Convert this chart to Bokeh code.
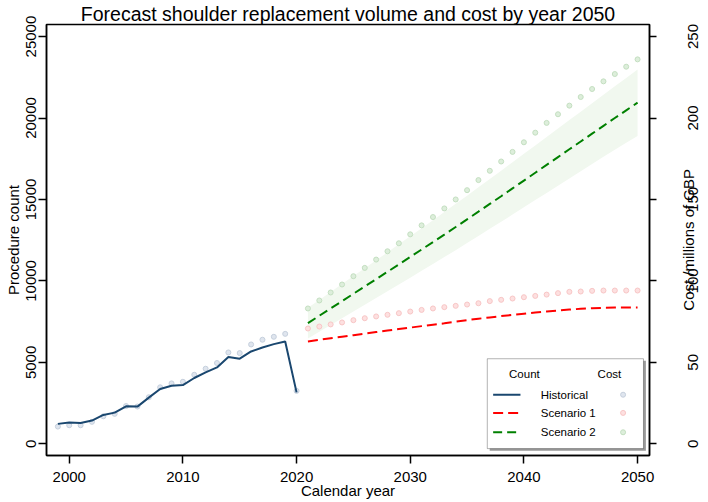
import math
from bokeh.plotting import figure
from bokeh.models import (ColumnDataSource, Range1d, LinearAxis, FixedTicker, BoxAnnotation,
                          Label, CustomJSTickFormatter, CustomLabelingPolicy)
from bokeh.embed import file_html
from bokeh.resources import INLINE

# historical data 1999-2020
hist_years = [1999, 2000, 2001, 2002, 2003, 2004, 2005, 2006, 2007, 2008, 2009,
              2010, 2011, 2012, 2013, 2014, 2015, 2016, 2017, 2018, 2019, 2020]
hist_count = [1225, 1305, 1285, 1430, 1775, 1915, 2305, 2285, 2835, 3365, 3570,
              3610, 4040, 4385, 4690, 5325, 5225, 5670, 5915, 6120, 6285, 3160]
hist_cost = [10.6, 11.4, 11.4, 13.5, 16.9, 18.4, 23.2, 22.9, 28.6, 34.7, 37.1,
             38.1, 42.4, 46.1, 49.6, 56.1, 55.7, 61.0, 63.9, 65.7, 67.5, 32.5]

# forecast 2021-2050
fc_years = [2021, 2022, 2023, 2024, 2025, 2026, 2027, 2028, 2029, 2030,
            2031, 2032, 2033, 2034, 2035, 2036, 2037, 2038, 2039, 2040,
            2041, 2042, 2043, 2044, 2045, 2046, 2047, 2048, 2049, 2050]
s1_count = [6285, 6385, 6480, 6575, 6670, 6765, 6860, 6955, 7045, 7135,
            7225, 7310, 7395, 7500, 7590, 7680, 7760, 7840, 7915, 7990,
            8060, 8125, 8185, 8240, 8290, 8325, 8350, 8362, 8367, 8365]
s1_cost = [70.8, 72.0, 73.3, 74.5, 75.9, 77.1, 78.2, 79.2, 80.2, 81.2,
           82.2, 83.1, 83.9, 84.7, 85.5, 86.3, 87.6, 88.4, 89.2, 90.0,
           90.8, 91.6, 92.5, 93.3, 93.5, 93.9, 94.1, 94.1, 94.1, 94.1]
s2_count = [7410, 7860, 8310, 8760, 9210, 9660, 10110, 10560, 11015, 11470,
            11925, 12385, 12845, 13310, 13780, 14250, 14725, 15200, 15680, 16160,
            16640, 17120, 17600, 18080, 18560, 19040, 19520, 20000, 20470, 20940]
s2_lower = [6470, 6885, 7300, 7710, 8125, 8540, 8950, 9365, 9785, 10200,
            10620, 11040, 11465, 11890, 12325, 12755, 13195, 13630, 14075, 14515,
            14960, 15400, 15845, 16285, 16730, 17170, 17615, 18055, 18485, 18900]
s2_upper = [8350, 8835, 9320, 9810, 10295, 10780, 11270, 11755, 12245, 12740,
            13230, 13730, 14225, 14730, 15235, 15745, 16255, 16770, 17285, 17805,
            18320, 18840, 19355, 19875, 20390, 20910, 21425, 21945, 22455, 22980]
s2_cost = [83.1, 88.0, 92.9, 97.8, 102.9, 108.0, 113.1, 118.2, 123.1, 128.6,
           134.1, 139.2, 144.5, 150.0, 155.7, 161.9, 167.6, 173.3, 179.2, 185.1,
           191.0, 197.0, 202.3, 207.6, 212.9, 217.8, 222.5, 227.0, 231.5, 236.0]

x_ticks = [2000, 2010, 2020, 2030, 2040, 2050]
count_ticks = [0, 5000, 10000, 15000, 20000, 25000]
cost_ticks = [0, 50, 100, 150, 200, 250]
cost_title = "Cost /millions of GBP"

FONT = "Liberation Sans"
NAVY = "#1a476f"
RED = "#ff0000"
GREEN = "#008000"

hist = ColumnDataSource(data=dict(x=hist_years, count=hist_count, cost=hist_cost))
fc = ColumnDataSource(data=dict(x=fc_years, s1=s1_count, s1c=s1_cost, s2=s2_count,
                                lo=s2_lower, hi=s2_upper, s2c=s2_cost))

x0, x1 = 1998.0, 2051.05
y0, y1 = -716, 25740

p = figure(width=708, height=502, output_backend="svg", toolbar_location=None,
           x_range=Range1d(x0, x1), y_range=Range1d(y0, y1),
           min_border_left=46, min_border_right=45, min_border_top=23, min_border_bottom=47)
p.extra_y_ranges = {"cost": Range1d(y0 / 100, y1 / 100)}

p.title.text = "Forecast shoulder replacement volume and cost by year 2050"
p.title.align = "center"
p.title.text_font = FONT
p.title.text_font_size = "19.5px"
p.title.text_font_style = "normal"
p.title.text_color = "black"
p.title.standoff = 0
p.title.offset = 0

p.grid.visible = False
p.outline_line_color = "black"
p.outline_line_width = 1.5

# confidence band for scenario 2
p.varea(x="x", y1="lo", y2="hi", source=fc, fill_color="#f1f8ef")

# cost dots
p.scatter("x", "cost", source=hist, y_range_name="cost", size=5,
          fill_color="#dfe5ee", line_color="#c6d0dd")
p.scatter("x", "s1c", source=fc, y_range_name="cost", size=5,
          fill_color="#fde0e0", line_color="#f8c6c6")
p.scatter("x", "s2c", source=fc, y_range_name="cost", size=5,
          fill_color="#ddeedb", line_color="#c4dfc1")

# count lines
p.line("x", "count", source=hist, line_color=NAVY, line_width=2)
p.line("x", "s1", source=fc, line_color=RED, line_width=2, line_dash="10 5")
p.line("x", "s2", source=fc, line_color=GREEN, line_width=2, line_dash="9 5")

def style_axis(ax, ticks):
    ax.ticker = FixedTicker(ticks=ticks)
    ax.minor_tick_line_color = None
    ax.major_tick_out = 8
    ax.major_tick_in = 0
    ax.axis_line_width = 1.5
    ax.major_tick_line_width = 1.5
    ax.major_label_text_font = FONT
    ax.major_label_text_font_size = "15px"
    ax.major_label_text_color = "black"
    ax.major_label_standoff = 2
    ax.axis_label_text_font = FONT
    ax.axis_label_text_font_size = "15px"
    ax.axis_label_text_font_style = "normal"
    ax.axis_label_text_color = "black"
    ax.axis_label_standoff = 2

p.xaxis.axis_label = "Calendar year"
style_axis(p.xaxis[0], x_ticks)
p.xaxis.major_label_standoff = 8
p.xaxis.axis_label_standoff = -3
p.yaxis.axis_label = "Procedure count"
style_axis(p.yaxis[0], count_ticks)
p.yaxis.major_label_orientation = "parallel"

# right axis: tick marks only
cost_axis = LinearAxis(y_range_name="cost")
style_axis(cost_axis, cost_ticks)
cost_axis.major_tick_out = 7
cost_axis.major_label_policy = CustomLabelingPolicy(code="return []")
p.add_layout(cost_axis, "right")

# right axis texts read bottom to top, so each one is moved down by half its length
px_per_cost = 432 / ((y1 - y0) / 100)

def half_len(txt):
    return 0.556 * 15 * len(txt) / 2 / px_per_cost

cost_labels = LinearAxis(y_range_name="cost")
style_axis(cost_labels, [v - half_len(str(v)) for v in cost_ticks])
cost_labels.major_tick_out = 0
cost_labels.axis_line_color = None
cost_labels.major_label_orientation = math.pi / 2
cost_labels.major_label_standoff = 7
cost_labels.formatter = CustomJSTickFormatter(code="return String(Math.round(tick / 50) * 50)")
p.add_layout(cost_labels, "right")

title_len = 9.423 * 15 / 2 / px_per_cost
cost_name = LinearAxis(y_range_name="cost")
style_axis(cost_name, [(cost_ticks[0] + cost_ticks[-1]) / 2 - title_len])
cost_name.major_tick_out = 0
cost_name.axis_line_color = None
cost_name.major_label_orientation = math.pi / 2
cost_name.major_label_standoff = -18
cost_name.formatter = CustomJSTickFormatter(code="return %r" % cost_title)
p.add_layout(cost_name, "right")

# legend drawn in frame fractions
def fx(f):
    return x0 + f * (x1 - x0)

def fy(f):
    return y0 + f * (y1 - y0)

def text(x, y, t, size="11.5px", **kw):
    p.add_layout(Label(x=x, y=y, text=t, text_font=FONT, text_font_size=size,
                       text_color="black", **kw))

p.add_layout(BoxAnnotation(left=fx(0.735), right=fx(0.994), top=fy(0.220), bottom=fy(0.011),
                           fill_color="#999999", fill_alpha=1, line_color=None, level="underlay"))
p.add_layout(BoxAnnotation(left=fx(0.731), right=fx(0.990), top=fy(0.2245), bottom=fy(0.016),
                           fill_color="white", fill_alpha=1, line_color="black", line_width=1,
                           level="underlay"))

for txt, f in [("Count", 0.7925), ("Cost", 0.9335)]:
    text(fx(f), fy(0.190), txt, text_align="center", text_baseline="middle")

legend_rows = [("Historical", NAVY, None, "#dfe5ee", "#c6d0dd", 0.141),
               ("Scenario 1", RED, "10 5", "#fde0e0", "#f8c6c6", 0.0988),
               ("Scenario 2", GREEN, "9 5", "#ddeedb", "#c4dfc1", 0.0539)]
for name, col, dash, fill, edge, f in legend_rows:
    kw = dict(line_dash=dash) if dash else {}
    p.line([fx(0.7407), fx(0.786)], [fy(f), fy(f)], line_color=col, line_width=2, **kw)
    p.scatter([fx(0.9562)], [fy(f)], size=5, fill_color=fill, line_color=edge)
    text(fx(0.8196), fy(f), name, text_align="left", text_baseline="middle")

open("out.html", "w").write(file_html(p, INLINE))
